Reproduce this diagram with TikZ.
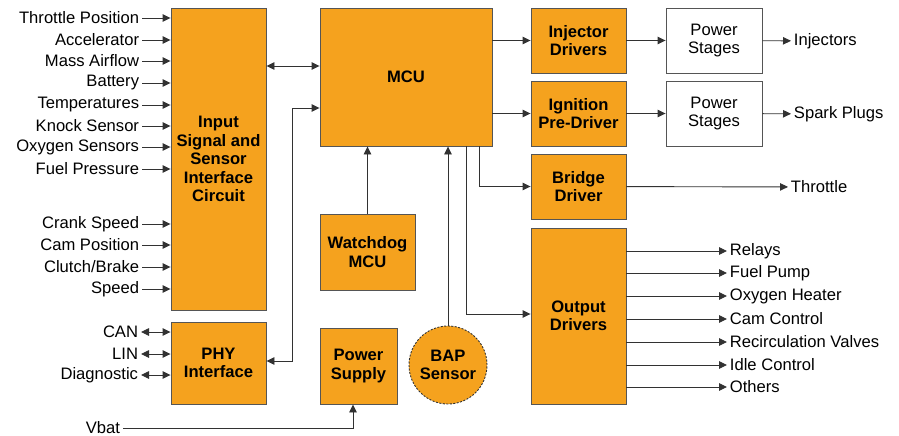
\documentclass[tikz,border=0pt]{standalone}
\usepackage{fontspec}
\setmainfont{Liberation Sans}
\usepackage{tikz}
\usetikzlibrary{arrows.meta, positioning}
\definecolor{amber}{RGB}{245, 162, 30}
\definecolor{edge}{RGB}{85, 85, 85}
\definecolor{wire}{RGB}{50, 50, 50}

\begin{document}
\begin{tikzpicture}[x=1pt, y=-1pt, line width=0.9pt,
    font=\fontsize{16.6}{18.5}\selectfont,
    box/.style={draw=edge, fill=amber, align=center, inner sep=0pt,
      font=\fontsize{16.6}{18.5}\selectfont\bfseries},
    stage/.style={draw=edge, fill=white, align=center, inner sep=0pt},
    lbl/.style={inner sep=2.5pt},
    arr/.style={draw=wire, -{Triangle[length=8pt, width=7.5pt]}},
    dbl/.style={draw=wire, {Triangle[length=8pt, width=7.5pt]}-{Triangle[length=8pt, width=7.5pt]}}]

  \useasboundingbox (0, 0) rectangle (899, 436);

  \node[box, minimum width=95pt, minimum height=302pt] (inp) at (218.5, 159) {Input\\Signal and\\Sensor\\Interface\\Circuit};
  \node[box, minimum width=95pt, minimum height=82pt] (phy) at (218.5, 363) {PHY\\Interface};
  \node[box, minimum width=172pt, minimum height=138pt] (mcu) at (406, 77) {MCU};
  \node[box, minimum width=95pt, minimum height=76pt] (wdog) at (367.5, 252) {Watchdog\\MCU};
  \node[box, minimum width=77pt, minimum height=76pt] (psu) at (358.5, 366) {Power\\Supply};
  \node[box, circle, dash pattern=on 2pt off 1.5pt, draw=wire, minimum size=78pt] (bap) at (448, 365) {BAP\\Sensor};

  \node[box, minimum width=95pt, minimum height=65pt] (inj) at (578.5, 40.5) {Injector\\Drivers};
  \node[box, minimum width=95pt, minimum height=65pt] (ign) at (578.5, 113.5) {Ignition\\Pre-Driver};
  \node[box, minimum width=95pt, minimum height=65pt] (brg) at (578.5, 186.5) {Bridge\\Driver};
  \node[box, minimum width=95pt, minimum height=176pt] (outd) at (578.5, 316) {Output\\Drivers};
  \node[stage, minimum width=96pt, minimum height=65pt] (ps1) at (714, 40.5) {Power\\Stages};
  \node[stage, minimum width=96pt, minimum height=65pt] (ps2) at (714, 113.5) {Power\\Stages};

  \foreach \y/\name [count=\i] in {18/Throttle Position, 40/Accelerator, 61/Mass Airflow,
      83/Battery, 105/Temperatures, 126/Knock Sensor, 147/Oxygen Sensors, 169/Fuel Pressure,
      224/Crank Speed, 245/Cam Position, 267/{Clutch/Brake}, 289/Speed} {
    \node[lbl, anchor=east] (in\i) at (142, \y) {\name};
    \draw[arr] (in\i.east) -- (in\i.east -| inp.west);
  }

  \foreach \y/\name [count=\i] in {332/CAN, 354/LIN, 375/Diagnostic} {
    \node[lbl, anchor=east] (bus\i) at (141, \y) {\name};
    \draw[dbl] (bus\i.east) -- (bus\i.east -| phy.west);
  }

  \foreach \y/\name [count=\i] in {251/Relays, 273/Fuel Pump, 296/Oxygen Heater, 319/Cam Control,
      342/Recirculation Valves, 365/Idle Control, 387/Others} {
    \node[lbl, anchor=west] (out\i) at (727, \y) {\name};
    \draw[arr] (out\i.west -| outd.east) -- (out\i.west);
  }

  \node[lbl, anchor=west] (injo) at (791, 41) {Injectors};
  \node[lbl, anchor=west] (spark) at (791, 114) {Spark Plugs};
  \node[lbl, anchor=west] (thr) at (788, 187) {Throttle};
  \node[lbl, anchor=east] (vbat) at (123, 428) {Vbat};

  \draw[dbl] ([yshift=11pt]mcu.west) -- ([yshift=11pt]mcu.west -| inp.east);
  \draw[dbl] ([yshift=2pt]phy.east) -- ++(26, 0) |- ([yshift=-31pt]mcu.west);
  \draw[arr] (wdog.north) -- (wdog.north |- mcu.south);
  \draw[arr] (bap.north) -- (bap.north |- mcu.south);
  \draw[arr] (vbat.east) -| ([xshift=-5.5pt]psu.south);

  \draw[arr] (inj.west -| mcu.east) -- (inj.west);
  \draw[arr] (ign.west -| mcu.east) -- (ign.west);
  \draw[arr] ([xshift=73pt]mcu.south) |- (brg.west);
  \draw[arr] ([xshift=60pt]mcu.south) |- ([yshift=2pt]outd.west);
  \draw[arr] (inj) -- (ps1);
  \draw[arr] (ign) -- (ps2);
  \draw[arr] (ps1) -- (injo);
  \draw[arr] (ps2) -- (spark);
  \draw[arr] (brg) -- (thr);
\end{tikzpicture}
\end{document}
